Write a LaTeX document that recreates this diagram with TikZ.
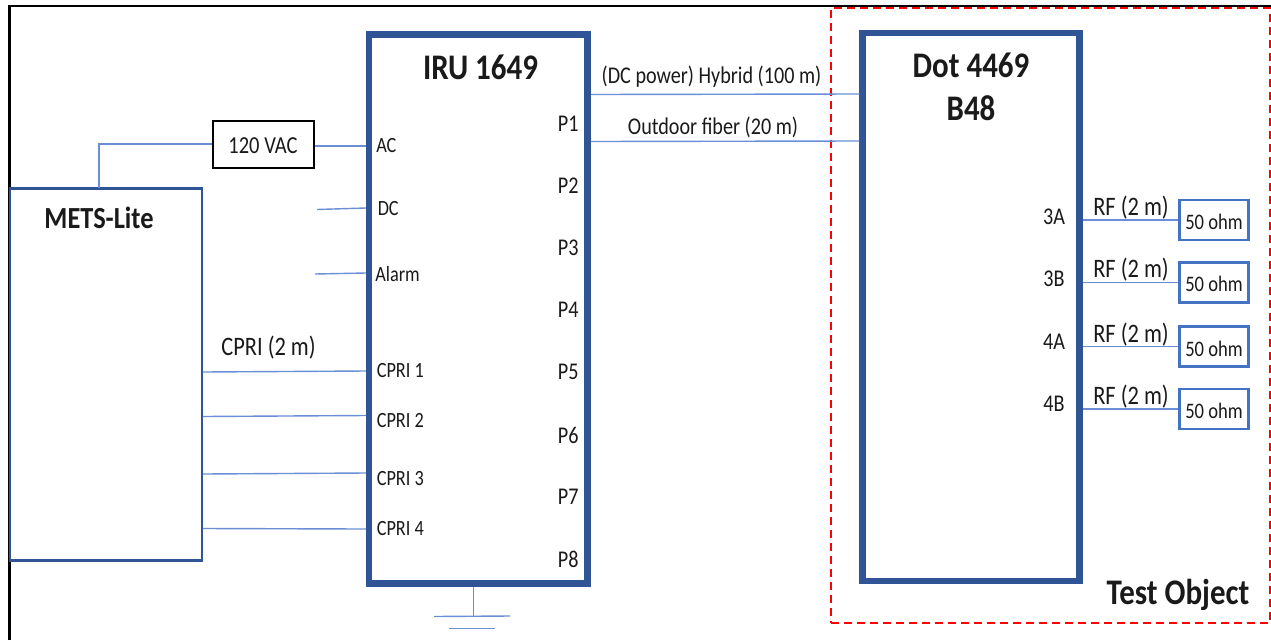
\documentclass[tikz,border=0pt]{standalone}
\usepackage{fontspec}
\setmainfont{Carlito}
\newfontfamily\capA[FakeStretch=0.84]{Carlito}
\newfontfamily\capB[FakeStretch=0.86]{Carlito}
\def\u{0.75pt}
\definecolor{boxblue}{HTML}{2F5597}
\definecolor{wireblue}{HTML}{6A8FD6}
\definecolor{termblue}{HTML}{4472C4}
\definecolor{ink}{HTML}{1A1A1A}
\definecolor{dashred}{HTML}{FF0000}
\tikzset{
  box/.style={draw,rectangle,inner sep=0pt},
  bigbox/.style={box,draw=boxblue,line width=6.5*\u,fill=white},
  metsbox/.style={box,draw=boxblue,line width=2.4*\u,fill=white},
  vacbox/.style={box,draw=black,line width=2*\u,fill=white},
  termbox/.style={box,draw=termblue,line width=2.2*\u,fill=white},
  wire/.style={draw=wireblue,line width=1.4*\u},
  lbl/.style={inner sep=0pt,text=ink},
  title/.style={lbl,font=\capB\fontsize{27pt}{27pt}\bfseries\selectfont},
  metstitle/.style={lbl,font=\capB\fontsize{23pt}{23pt}\bfseries\selectfont},
  port/.style={lbl,font=\capA\fontsize{18pt}{18pt}\selectfont},
  small/.style={lbl,font=\capA\fontsize{16.3pt}{16.3pt}\selectfont},
  cable/.style={lbl,font=\capA\fontsize{18pt}{18pt}\selectfont},
  wide/.style={lbl,font=\capA\fontsize{20pt}{20pt}\selectfont},
  load/.style={lbl,font=\capA\fontsize{16.6pt}{16.6pt}\selectfont},
  vaclbl/.style={lbl,font=\capA\fontsize{18.3pt}{18.3pt}\selectfont},
}
\begin{document}
\begin{tikzpicture}[x=0.75pt,y=-0.75pt]
\useasboundingbox (0,0) rectangle (1271,640);
\fill[white] (0,0) rectangle (1271,640);
% outer frame
\coordinate (fa) at (9.5,640);
\coordinate (fb) at (9.5,6);
\coordinate (fc) at (1271,6);
\draw[black,line width=2.4*\u] (fa) -- (fb) -- (fc);
% test object region
\node[box,draw=dashred,line width=2*\u,dash pattern=on 8*\u off 5*\u,minimum width=438.5*\u,minimum height=615.5*\u] (testobj) at (1050.5,315.5) {};
% boxes
\node[metsbox,minimum width=192*\u,minimum height=372*\u] (mets) at (105.75,374.5) {};
\node[vacbox,minimum width=101*\u,minimum height=47*\u] (vac) at (263,144) {};
\node[bigbox,minimum width=218.5*\u,minimum height=549*\u] (iru) at (478.3,309) {};
\node[bigbox,minimum width=217*\u,minimum height=548*\u] (dot) at (971,307) {};
\node[termbox,minimum width=69*\u,minimum height=40*\u] (t1) at (1214,220) {};
\node[termbox,minimum width=69*\u,minimum height=40*\u] (t2) at (1214,282.5) {};
\node[termbox,minimum width=69*\u,minimum height=40*\u] (t3) at (1214,346.5) {};
\node[termbox,minimum width=69*\u,minimum height=40*\u] (t4) at (1214,409) {};
% free-end coordinates
\coordinate (metsup) at (99,188);
\coordinate (dcfree) at (317,209.5);
\coordinate (alfree) at (315,274);
\coordinate (gndtop) at (473.5,587);
\coordinate (gndmid) at (473.5,616);
\coordinate (gla) at (434,616.5);
\coordinate (glb) at (510,616);
\coordinate (gsa) at (449,628.5);
\coordinate (gsb) at (495,628.5);
% connectors
\draw[wire] (metsup) |- (vac.west);
\draw[wire] (vac.east |- 0,146) -- (iru.west |- 0,146);
\draw[wire] (dcfree) -- (iru.west |- 0,208);
\draw[wire] (alfree) -- (iru.west |- 0,273);
\draw[wire] (mets.east |- 0,372) -- (iru.west |- 0,371);
\draw[wire] (mets.east |- 0,416.5) -- (iru.west |- 0,415.5);
\draw[wire] (mets.east |- 0,474) -- (iru.west |- 0,473);
\draw[wire] (mets.east |- 0,528.5) -- (iru.west |- 0,529);
\draw[wire] (iru.east |- 0,94.5) -- (dot.west |- 0,94);
\draw[wire] (iru.east |- 0,141.5) -- (dot.west |- 0,141);
\draw[wire] (dot.east |- t1.west) -- (t1.west);
\draw[wire] (dot.east |- t2.west) -- (t2.west);
\draw[wire] (dot.east |- t3.west) -- (t3.west);
\draw[wire] (dot.east |- t4.west) -- (t4.west);
\draw[wire] (gndtop) -- (gndmid);
\draw[wire] (gla) -- (glb);
\draw[wire] (gsa) -- (gsb);
% titles
\node[title] (tiru) at (480.5,67) {IRU 1649};
\node[title] (tdot) at (971,65) {Dot 4469};
\node[title] (tb48) at (971,108) {B48};
\node[metstitle] (tmets) at (99,218) {METS-Lite};
\node[title] (ttest) at (1178,595) {Test Object};
% labels
\node[vaclbl] (lvac) at (263,146) {120 VAC};
\node[small,anchor=west] (lac) at (376,145.5) {AC};
\node[small,anchor=west] (ldc) at (377.5,208.5) {DC};
\node[small,anchor=west] (lal) at (375,274.5) {Alarm};
\node[small,anchor=west] (lc1) at (376.5,370.5) {CPRI 1};
\node[small,anchor=west] (lc2) at (376.5,420.5) {CPRI 2};
\node[small,anchor=west] (lc3) at (376.5,478.5) {CPRI 3};
\node[small,anchor=west] (lc4) at (376.5,528.5) {CPRI 4};
\node[port] (p1) at (568.3,124) {P1};
\node[port] (p2) at (568.3,186) {P2};
\node[port] (p3) at (568.3,248) {P3};
\node[port] (p4) at (568.3,310) {P4};
\node[port] (p5) at (568.3,372) {P5};
\node[port] (p6) at (568.3,435) {P6};
\node[port] (p7) at (568.3,497) {P7};
\node[port] (p8) at (568.3,559) {P8};
\node[cable] (lhyb) at (711.5,76.5) {(DC power) Hybrid (100 m)};
\node[cable] (lfib) at (713,127) {Outdoor fiber (20 m)};
\node[wide] (lcpri) at (268.5,348) {CPRI (2 m)};
\node[port] (l3a) at (1054,217) {3A};
\node[port] (l3b) at (1054,279) {3B};
\node[port] (l4a) at (1054,342) {4A};
\node[port] (l4b) at (1054,404) {4B};
\node[wide] (rf1) at (1131,208) {RF (2 m)};
\node[wide] (rf2) at (1131,270) {RF (2 m)};
\node[wide] (rf3) at (1131,335) {RF (2 m)};
\node[wide] (rf4) at (1131,397) {RF (2 m)};
\node[load] (o1) at (1214,221.5) {50 ohm};
\node[load] (o2) at (1214,283.5) {50 ohm};
\node[load] (o3) at (1214,348.5) {50 ohm};
\node[load] (o4) at (1214,410.5) {50 ohm};
\end{tikzpicture}
\end{document}
